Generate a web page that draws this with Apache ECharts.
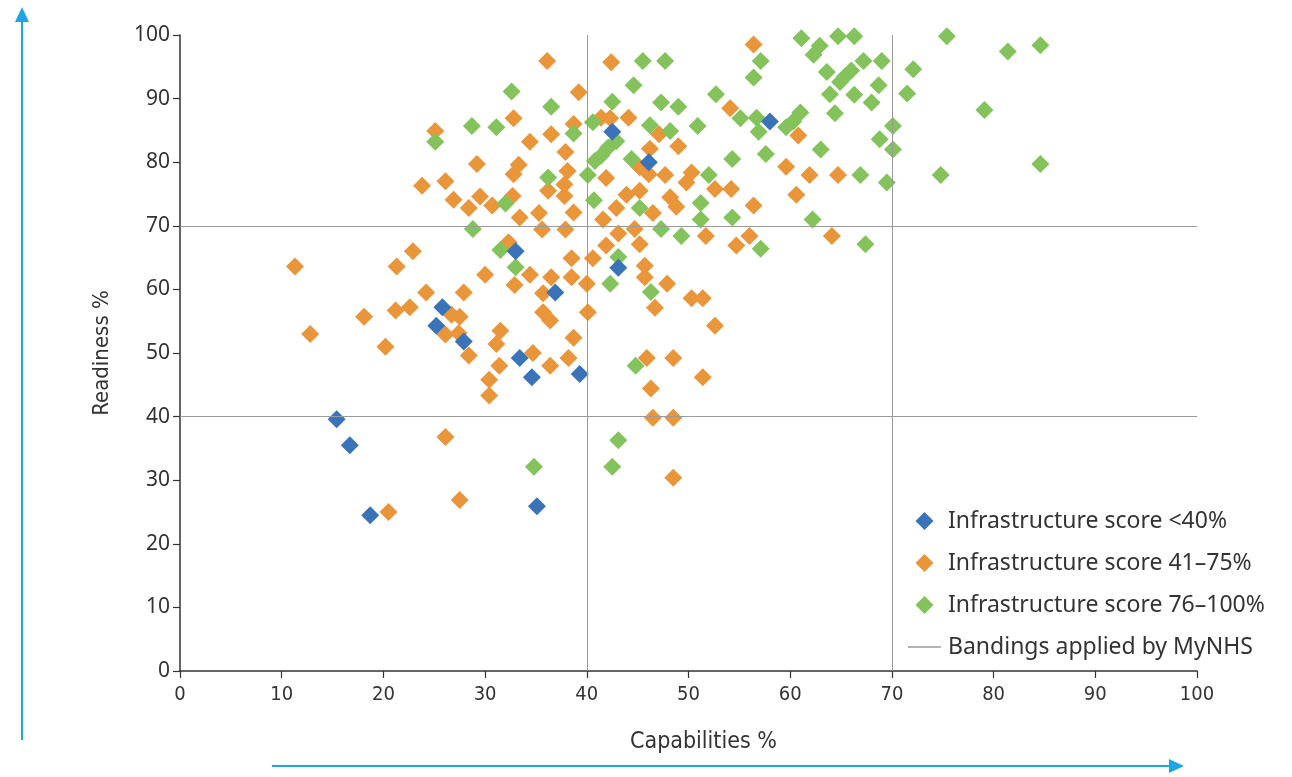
<!DOCTYPE html>
<html>
<head>
<meta charset="utf-8">
<script src="https://cdn.jsdelivr.net/npm/echarts@6/dist/echarts.min.js"></script>
<style>
html,body{margin:0;padding:0;background:#fff;}
#c{width:1292px;height:777px;}
</style>
</head>
<body>
<div id="c"></div>
<script>
const seriesNames = ['Infrastructure score <40%', 'Infrastructure score 41\u201375%', 'Infrastructure score 76\u2013100%', 'Bandings applied by MyNHS'];
const xTicks = [0,10,20,30,40,50,60,70,80,90,100];
const bandX = [40, 70];
const bandY = [40, 70];

const blueData = [
[42.5,84.8],[46.1,80.0],[58.0,86.4],[33.0,66.0],[43.1,63.4],[36.9,59.5],[25.8,57.2],[25.2,54.3],
[27.9,51.8],[33.4,49.2],[34.6,46.2],[39.3,46.7],[15.4,39.6],[16.7,35.5],[35.1,25.9],[18.7,24.5]
];

const orangeData = [
[36.1,95.9],[39.2,91.0],[32.8,86.9],[25.1,84.9],[38.7,86.0],[36.5,84.4],[34.4,83.2],[37.9,81.6],
[29.2,79.7],[33.3,79.6],[32.8,78.1],[38.1,78.6],[23.8,76.3],[26.1,77.0],[37.8,76.5],[36.2,75.5],
[37.8,74.7],[26.9,74.1],[29.5,74.6],[28.4,72.8],[30.7,73.2],[32.7,74.7],[33.4,71.3],[35.3,72.0],
[38.7,72.1],[35.6,69.4],[37.9,69.4],[22.9,66.0],[32.3,67.4],[38.5,64.9],[40.6,64.9],[11.3,63.6],
[21.3,63.6],
[56.4,98.5],[42.4,95.7],[54.1,88.5],[41.4,87.0],[42.3,86.9],[44.1,87.0],[60.8,84.2],[49.0,82.5],
[46.2,82.1],[47.1,84.4],[45.2,79.2],[46.1,78.1],[41.9,77.5],[47.7,78.0],[49.8,76.8],[50.3,78.4],
[59.6,79.3],[61.9,78.0],[64.7,78.0],[52.6,75.8],[54.2,75.8],[43.9,74.9],[45.2,75.5],[48.2,74.5],
[48.8,73.0],[42.9,72.8],[46.5,72.0],[60.6,74.9],[56.4,73.2],[41.6,71.0],[44.7,69.5],[51.7,68.4],
[56.0,68.4],[54.7,66.9],[64.1,68.4],[43.1,68.8],[41.9,66.9],[45.2,67.1],[45.7,63.7],
[30.0,62.3],[34.4,62.3],[36.5,61.9],[38.5,61.9],[40.0,60.9],[32.9,60.7],[24.2,59.5],[27.9,59.5],
[35.7,59.4],[18.1,55.7],[21.2,56.7],[22.6,57.2],[26.7,56.0],[27.5,55.7],[26.1,52.9],[27.4,53.1],
[28.4,49.6],[35.7,56.4],[36.4,55.1],[40.1,56.4],[38.7,52.4],[31.5,53.5],[31.1,51.4],[34.7,50.0],
[36.4,48.0],[38.2,49.2],[31.4,48.0],[30.4,45.8],[30.4,43.3],[12.8,53.0],[20.2,51.0],[26.1,36.8],
[27.5,26.9],[20.5,25.0],
[45.7,61.9],[47.9,60.9],[46.7,57.1],[50.3,58.6],[51.4,58.6],[52.6,54.3],[45.9,49.2],[48.5,49.2],
[51.4,46.2],[46.3,44.4],[46.5,39.8],[48.5,39.8],[48.5,30.4]
];

const greenData = [
[32.6,91.1],[36.5,88.7],[25.1,83.2],[28.7,85.7],[31.1,85.5],[38.7,84.5],[36.2,77.6],[40.1,78.0],
[32.0,73.5],[40.7,74.0],[28.8,69.5],[31.5,66.2],[33.0,63.5],
[61.1,99.5],[64.7,99.8],[66.3,99.8],[62.9,98.3],[62.3,96.9],[45.5,95.9],[47.7,95.9],[57.1,95.9],
[67.2,95.9],[69.0,95.9],[63.6,94.2],[56.4,93.3],[66.0,94.4],[65.4,93.5],[64.9,92.6],[44.6,92.1],
[68.7,92.1],[52.7,90.7],[63.9,90.7],[66.3,90.6],[68.0,89.4],[42.5,89.5],[47.3,89.4],[49.0,88.7],
[55.1,86.9],[64.4,87.7],[40.6,86.3],[56.7,87.0],[56.9,84.8],[61.0,87.8],[60.3,86.4],[59.6,85.5],
[46.2,85.8],[48.2,84.9],[50.9,85.7],[42.9,83.3],[42.1,82.3],[41.4,81.0],[40.8,80.2],[44.4,80.5],
[54.3,80.5],[57.6,81.3],[63.0,82.0],[68.8,83.6],[70.1,82.0],[70.1,85.7],[52.0,78.0],[66.9,78.0],
[69.5,76.8],[45.2,72.8],[51.2,73.6],[51.2,71.0],[54.3,71.3],[62.2,71.0],[47.3,69.5],[49.3,68.4],
[57.1,66.4],[67.4,67.1],[43.1,65.1],
[75.4,99.8],[81.4,97.4],[84.6,98.4],[72.1,94.6],[71.5,90.8],[79.1,88.2],[74.8,78.0],[84.6,79.7],
[34.8,32.1],[42.3,60.9],[46.3,59.6],[44.8,48.0],[43.1,36.3],[42.5,32.1]
];

const COL_BLUE = '#3b73b9', COL_ORANGE = '#e9953a', COL_GREEN = '#84c35b', COL_ARROW = '#1fa6e0';
const NARROW = "'DejaVu Sans Condensed', Roboto, sans-serif";
const DIAMOND = 'path://M9,0L18,9L9,18L0,9Z';
const chart = echarts.init(document.getElementById('c'), null, {renderer: 'canvas'});

const axisCommon = {
  type: 'value', min: 0, max: 100, interval: 10,
  axisLine: {show: true, lineStyle: {color: '#333', width: 1.5}},
  axisTick: {show: true, length: 7, lineStyle: {color: '#333', width: 1.2}},
  splitLine: {show: false}
};

chart.setOption({
  animation: false,
  backgroundColor: '#fff',
  grid: {left: 180, right: 95, top: 35, bottom: 106, containLabel: false},
  xAxis: Object.assign({}, axisCommon, {
    name: 'Capabilities %', nameLocation: 'middle', nameGap: 60,
    nameTextStyle: {fontFamily: NARROW, fontSize: 23, color: '#333', padding: [0, 0, 0, 30]},
    axisLabel: {margin: 14, fontFamily: NARROW, fontSize: 20, color: '#333',
      formatter: v => xTicks.indexOf(v) >= 0 ? String(v) : ''}
  }),
  yAxis: Object.assign({}, axisCommon, {
    name: 'Readiness %', nameLocation: 'middle', nameGap: 67, nameRotate: 90,
    nameTextStyle: {fontFamily: NARROW, fontSize: 22, color: '#333'},
    axisLabel: {margin: 10, fontFamily: 'Noto Sans', fontSize: 21, color: '#333'}
  }),
  legend: {
    orient: 'vertical', left: 903, top: 504, itemWidth: 33, itemHeight: 18, itemGap: 18,
    symbolKeepAspect: true,
    textStyle: {fontFamily: 'Noto Sans', fontSize: 23, color: '#333', lineHeight: 24, padding: [0,0,0,2]},
    data: [
      {name: seriesNames[0], icon: DIAMOND},
      {name: seriesNames[1], icon: DIAMOND},
      {name: seriesNames[2], icon: DIAMOND},
      {name: seriesNames[3], icon: 'path://M0,0H33V1.3H0Z', itemStyle: {color: '#9a9a9a'}}
    ]
  },
  series: [
    {name: seriesNames[1], type: 'scatter', symbol: 'diamond', symbolSize: 18, z: 2,
     itemStyle: {color: COL_ORANGE, opacity: 1}, data: orangeData},
    {name: seriesNames[2], type: 'scatter', symbol: 'diamond', symbolSize: 18, z: 3,
     itemStyle: {color: COL_GREEN, opacity: 1}, data: greenData},
    {name: seriesNames[0], type: 'scatter', symbol: 'diamond', symbolSize: 18, z: 4,
     itemStyle: {color: COL_BLUE, opacity: 1}, data: blueData},
    {name: seriesNames[3], type: 'line', data: [], symbol: 'none', z: 1,
     lineStyle: {color: '#9a9a9a', width: 1}, itemStyle: {color: '#9a9a9a'},
     markLine: {silent: true, symbol: ['none','none'], label: {show: false},
       lineStyle: {color: '#9a9a9a', width: 1, type: 'solid'},
       data: bandX.map(v => ({xAxis: v})).concat(bandY.map(v => ({yAxis: v})))}}
  ],
  graphic: [
    {type: 'line', shape: {x1: 22, y1: 740, x2: 22, y2: 20}, style: {stroke: COL_ARROW, lineWidth: 2}},
    {type: 'polygon', shape: {points: [[22, 7], [15, 22], [29, 22]]}, style: {fill: COL_ARROW}},
    {type: 'line', shape: {x1: 272, y1: 766, x2: 1172, y2: 766}, style: {stroke: COL_ARROW, lineWidth: 2}},
    {type: 'polygon', shape: {points: [[1184, 766], [1169, 759], [1169, 773]]}, style: {fill: COL_ARROW}}
  ]
});
</script>
</body>
</html>
